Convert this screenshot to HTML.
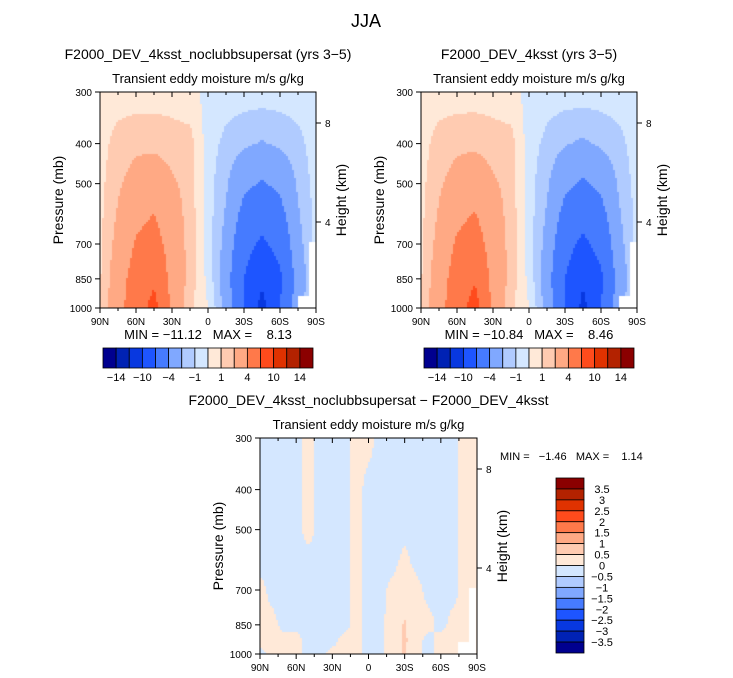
<!DOCTYPE html>
<html><head><meta charset="utf-8">
<style>
body{margin:0;background:#fff;}
#root{position:relative;width:733px;height:678px;overflow:hidden;font-family:"Liberation Sans",sans-serif;}
canvas{position:absolute;}
svg{position:absolute;left:0;top:0;}
text{font-family:"Liberation Sans",sans-serif;fill:#000;white-space:pre;}
</style></head>
<body>
<div id="root">
<canvas id="c1" width="216" height="216" style="left:100px;top:92px"></canvas>
<canvas id="c2" width="216" height="216" style="left:421px;top:92px"></canvas>
<canvas id="c3" width="217" height="216" style="left:260px;top:438px"></canvas>
<svg id="ov" width="733" height="678"></svg>
</div>
<script>
// ---- data ----
const levelsP = [300,400,500,700,850,1000];
const lats13 = [90,75,60,45,30,15,0,-15,-30,-45,-60,-75,-90];
const panel1Values = [
 [0.5,0.5,0.5,0.5,0.5,0.3,-0.3,-0.5,-0.5,-0.5,-0.5,-0.5,-0.5],
 [0.6,1.4,1.7,1.7,1.5,1.4,-0.5,-1.3,-1.8,-2.1,-1.8,-1.3,-0.5],
 [0.7,1.8,2.6,3.0,2.2,1.6,-0.6,-1.8,-3.5,-4.2,-3.5,-1.8,-0.6],
 [0.8,2.5,4.2,5.0,3.0,1.6,-0.5,-2.5,-6,-7.5,-6,-2.5,-0.7],
 [0.9,3,5,6.5,3.2,1.6,-0.3,-3,-7,-9.5,-7.5,-3,-0.8],
 [1,3.2,5.5,8,3.5,1.2,0,-2.5,-7,-11,-7,-2.5,-0.8]];
const panel2Values = [
 [0.5,0.5,0.5,0.5,0.5,0.3,-0.3,-0.5,-0.5,-0.5,-0.5,-0.5,-0.5],
 [0.6,1.4,1.7,1.75,1.5,1.4,-0.5,-1.3,-1.9,-2.2,-1.8,-1.3,-0.5],
 [0.7,1.8,2.6,3.1,2.2,1.6,-0.6,-1.8,-3.5,-4.3,-3.5,-1.8,-0.6],
 [0.8,2.5,4.3,5.1,3.0,1.6,-0.5,-2.5,-6,-7.6,-6,-2.5,-0.7],
 [0.9,3,5,6.7,3.2,1.6,-0.3,-3,-7,-9.6,-7.5,-3,-0.8],
 [1,3.2,5.5,8.3,3.5,1.2,0,-2.5,-7,-10.8,-7,-2.5,-0.8]];
const levelsD = [300,400,500,600,700,850,925,1000];
const lats19 = [90,80,70,60,50,40,30,20,10,0,-10,-20,-30,-40,-50,-60,-70,-80,-90];
const diffValues = [
 [-0.1,-0.1,-0.1,-0.1,0.1,-0.1,-0.1,-0.1,0.1,0.1,-0.1,-0.1,-0.1,-0.1,-0.1,-0.1,-0.1,0.1,0.1],
 [-0.1,-0.1,-0.1,-0.1,0.1,-0.1,-0.1,-0.1,0.1,-0.1,-0.1,-0.1,-0.1,-0.1,-0.1,-0.1,-0.1,0.1,0.1],
 [-0.1,-0.1,-0.1,-0.1,0.1,-0.1,-0.1,-0.1,0.1,-0.1,-0.1,-0.1,-0.1,-0.1,-0.1,-0.1,-0.1,0.1,0.1],
 [-0.1,-0.1,-0.1,-0.1,-0.1,-0.1,-0.1,-0.1,0.1,-0.1,-0.1,-0.1,0.1,-0.1,-0.1,-0.1,-0.1,0.1,0.1],
 [0.1,-0.1,-0.1,-0.1,-0.1,-0.1,-0.1,-0.1,0.1,-0.1,-0.1,0.1,0.2,0.1,-0.1,-0.1,-0.1,0.1,0.1],
 [0.1,0.1,-0.1,-0.1,-0.1,-0.1,-0.1,-0.1,0.1,-0.1,-0.1,0.2,0.55,0.1,0.1,-0.1,0.1,0.1,0.1],
 [0.1,0.1,0.1,0.1,-0.1,-0.1,-0.1,0.1,0.1,-0.1,-0.1,0.2,0.6,0.1,-0.1,0.1,0.1,0.1,0.1],
 [-0.1,0.1,0.1,0.1,-0.1,-0.1,0.1,0.1,0.1,-0.1,-0.1,0.2,0.55,0.1,-0.1,0.1,0.1,0.1,0.1]];
const cnLevels1 = [-14,-12,-10,-7,-4,-2,-1,0,1,2,4,7,10,12,14];
const cbLabels1 = ["\u221214","\u221210","\u22124","\u22121","1","4","10","14"];
const cnLevelsD = [-3.5,-3,-2.5,-2,-1.5,-1,-0.5,0,0.5,1,1.5,2,2.5,3,3.5];
const cbLabelsD = ["3.5","3","2.5","2","1.5","1","0.5","0","\u22120.5","\u22121","\u22121.5","\u22122","\u22122.5","\u22123","\u22123.5"];
const colors = ["#00008f","#0022b4","#0838e0","#1e55ff","#467bff","#80a8ff","#b0cbff","#d4e7ff","#ffe9d8","#ffcbb1","#ffa984","#ff794a","#ff4b1c","#e03200","#b32200","#8b0000"];
const xTickLabels = ["90N","60N","30N","0","30S","60S","90S"];
const pTicks = [300,400,500,700,850,1000];

function colorFor(v,lv){let i=0;while(i<lv.length&&v>=lv[i])i++;return colors[i];}
function yOfP(p,h){return h*Math.log(1000/p)/Math.log(1000/300);}
function interp(grid,lats,lvs,lat,p){
  let n=lats.length, fi=(lats[0]-lat)/(lats[0]-lats[n-1])*(n-1);
  let i0=Math.min(n-2,Math.max(0,Math.floor(fi))), tx=fi-i0;
  let lp=Math.log(p), j0=0;
  for(let j=0;j<lvs.length-1;j++){if(p>=lvs[j]&&p<=lvs[j+1]){j0=j;break;}}
  let ty=(lp-Math.log(lvs[j0]))/(Math.log(lvs[j0+1])-Math.log(lvs[j0]));
  let a=grid[j0][i0]*(1-tx)+grid[j0][i0+1]*tx, b=grid[j0+1][i0]*(1-tx)+grid[j0+1][i0+1]*tx;
  return a*(1-ty)+b*ty;
}
function drawPanel(id,grid,lats,lvs,cn){
  const c=document.getElementById(id),ctx=c.getContext('2d'),W=c.width,H=c.height,s=2;
  for(let y=0;y<H;y+=s)for(let x=0;x<W;x+=s){
    const lat=90-180*(x+s/2)/W, p=1000*Math.pow(300/1000,1-(y+s/2)/H);
    ctx.fillStyle=colorFor(interp(grid,lats,lvs,lat,p),cn);ctx.fillRect(x,y,s,s);
  }
}
drawPanel('c1',panel1Values,lats13,levelsP,cnLevels1);
drawPanel('c2',panel2Values,lats13,levelsP,cnLevels1);
drawPanel('c3',diffValues,lats19,levelsD,cnLevelsD);
for(const id of ['c1','c2','c3']){const ctx=document.getElementById(id).getContext('2d');ctx.fillStyle='#fff';ctx.fillRect(198,204,18,12);ctx.fillRect(209,150,7,66);}

const NS='http://www.w3.org/2000/svg',ov=document.getElementById('ov');
function el(tag,attrs,txt){const e=document.createElementNS(NS,tag);for(const k in attrs)e.setAttribute(k,attrs[k]);if(txt!==undefined)e.textContent=txt;ov.appendChild(e);return e;}
function txt(x,y,s,size,anchor,name,rot){const t=el('text',{x:x,y:y,'font-size':size,'text-anchor':anchor||'middle'},s);
 
 
 if(rot)t.setAttribute('transform','rotate(-90 '+x+' '+y+')');return t;}

function axes(X,Y,W,H,title,minmax,prefix){
  const r=el('rect',{x:X,y:Y,width:W,height:H,fill:'none',stroke:'#000','stroke-width':1});
  
  
  for(let k=0;k<=12;k++){const x=X+W*k/12,len=(k%2==0)?5:3;
    el('line',{x1:x,y1:Y,x2:x,y2:Y+len,stroke:'#000'});el('line',{x1:x,y1:Y+H,x2:x,y2:Y+H+len,stroke:'#000'});}
  xTickLabels.forEach((l,k)=>{txt(X+W*k/6,Y+H+17,l,10,'middle',prefix+'-x-tick-label');});
  pTicks.forEach(p=>{const y=Y+H-yOfP(p,H);el('line',{x1:X-5,y1:y,x2:X,y2:y,stroke:'#000'});
    txt(X-8,y+4,String(p),10,'end',prefix+'-y-tick-label');});
  [[8,Y+31],[4,Y+130]].forEach(([h,y])=>{el('line',{x1:X+W,y1:y,x2:X+W+5,y2:y,stroke:'#000'});txt(X+W+9,y+4,String(h),10,'start',prefix+'-height-tick-label');});
  txt(X-37,Y+H/2,'Pressure (mb)',14,'middle',prefix+'-y-axis-title',true);
  txt(X+W+30,Y+H/2,'Height (km)',14,'middle',prefix+'-height-axis-title',true);
  txt(X+W/2,Y-33,title,14,'middle',prefix+'-title');
  txt(X+W/2,Y-9,'Transient eddy moisture m/s g/kg',13,'middle',prefix+'-subtitle');
  if(minmax)txt(X+W/2,Y+H+31,minmax,13,'middle',prefix+'-min-max');
}
txt(366,27,'JJA',18,'middle','figure-title');
axes(100,92,216,216,'F2000_DEV_4ksst_noclubbsupersat (yrs 3\u22125)','MIN = \u221211.12   MAX =    8.13','panel1');
axes(421,92,216,216,'F2000_DEV_4ksst (yrs 3\u22125)','MIN = \u221210.84   MAX =    8.46','panel2');
axes(260,438,217,216,'F2000_DEV_4ksst_noclubbsupersat \u2212 F2000_DEV_4ksst',null,'panel3');
txt(500,460,'MIN =   \u22121.46   MAX =    1.14',11,'start','panel3-min-max');

function hbar(X,prefix){const bw=210/16;
  colors.forEach((c,i)=>{const r=el('rect',{x:X+i*bw,y:348,width:bw,height:20,fill:c,stroke:'#000','stroke-width':0.8});
    
    });
  cbLabels1.forEach((l,k)=>{txt(X+bw*(2*k+1),381,l,11,'middle',prefix+'-colorbar-label');});}
hbar(103,'panel1');hbar(424,'panel2');
(function(){const bh=175/16,X=556,Y=478;
  colors.slice().reverse().forEach((c,i)=>{const r=el('rect',{x:X,y:Y+i*bh,width:28,height:bh,fill:c,stroke:'#000','stroke-width':0.8});
    
    });
  cbLabelsD.forEach((l,k)=>{txt(X+46,Y+bh*(k+1)+4,l,11,'middle','panel3-colorbar-label');});})();
</script>
</body></html>
